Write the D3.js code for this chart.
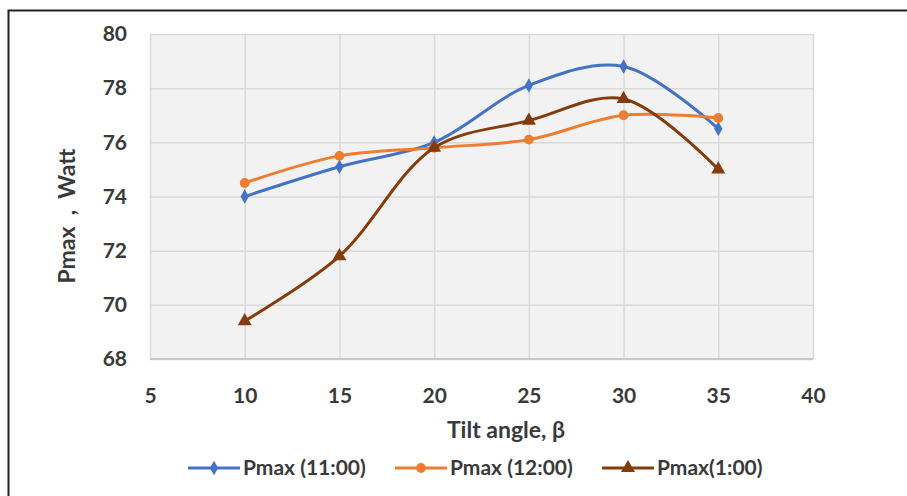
<!DOCTYPE html>
<html><head><meta charset="utf-8">
<script src="https://cdn.jsdelivr.net/npm/d3@7"></script>
<style>body{margin:0;background:#fff;} svg{display:block;}</style>
</head><body>
<svg id="c" width="907" height="496"></svg>
<script>
const tilt = [10, 15, 20, 25, 30, 35];
const p1100 = [74.0, 75.1, 76.0, 78.1, 78.8, 76.5];
const p1200 = [74.5, 75.5, 75.8, 76.1, 77.0, 76.9];
const p0100 = [69.4, 71.8, 75.8, 76.8, 77.6, 75.0];
const seriesNames = ["Pmax (11:00)", "Pmax (12:00)", "Pmax(1:00)"];
const xTicks = [5, 10, 15, 20, 25, 30, 35, 40];
const yTicks = [68, 70, 72, 74, 76, 78, 80];

const colors = ["#4472C4", "#ED7D31", "#843C0C"];
const symbols = [d3.symbolDiamond, d3.symbolCircle, d3.symbolTriangle];
const symSizes = [60, 75, 85];
const font = "Lato, 'Open Sans', sans-serif";
const txt = "#3a3a3a";

const svg = d3.select("#c");
// outer border
svg.append("rect").attr("x", 8.5).attr("y", 10.5).attr("width", 1000).attr("height", 600)
  .attr("fill", "#fff").attr("stroke", "#222").attr("stroke-width", 2);

const x = d3.scaleLinear().domain([5, 40]).range([150, 813]);
const y = d3.scaleLinear().domain([68, 80]).range([359, 34]);

// plot background
svg.append("rect").attr("x", x(5)).attr("y", y(80)).attr("width", x(40) - x(5)).attr("height", y(68) - y(80))
  .attr("fill", "#f2f2f2");

// grid
const gx = svg.append("g").attr("transform", `translate(0,${y(68)})`)
  .call(d3.axisBottom(x).tickValues(xTicks).tickSize(-(y(68) - y(80))).tickFormat(""));
gx.select(".domain").remove();
gx.selectAll("line").attr("stroke", "#d9d9d9").attr("stroke-width", 1.5);
const gy = svg.append("g").attr("transform", `translate(${x(5)},0)`)
  .call(d3.axisLeft(y).tickValues(yTicks).tickSize(-(x(40) - x(5))).tickFormat(""));
gy.select(".domain").remove();
gy.selectAll("line").attr("stroke", "#d9d9d9").attr("stroke-width", 1.5);
// bottom axis line
svg.append("line").attr("x1", x(5)).attr("x2", x(40)).attr("y1", y(68)).attr("y2", y(68))
  .attr("stroke", "#c8c8c8").attr("stroke-width", 2);

// tick labels
const ax = svg.append("g").attr("transform", `translate(0,${y(68)})`)
  .call(d3.axisBottom(x).tickValues(xTicks).tickSize(0).tickPadding(29).tickFormat(d3.format("d")));
ax.select(".domain").remove();
ax.selectAll("text").attr("font-family", font).attr("font-size", 21).attr("font-weight", "bold").attr("fill", txt);
const ay = svg.append("g").attr("transform", `translate(${x(5)},0)`)
  .call(d3.axisLeft(y).tickValues(yTicks).tickSize(0).tickPadding(23).tickFormat(d3.format("d")));
ay.select(".domain").remove();
ay.selectAll("text").attr("font-family", font).attr("font-size", 21).attr("font-weight", "bold").attr("fill", txt);

// axis titles
svg.append("text").attr("x", 506).attr("y", 438).attr("text-anchor", "middle")
  .attr("font-family", font).attr("font-size", 23).attr("font-weight", "bold").attr("fill", txt)
  .text("Tilt angle, β");
svg.append("text").attr("transform", "translate(75,216) rotate(-90)").attr("text-anchor", "middle")
  .attr("font-family", font).attr("font-size", 23).attr("font-weight", "bold").attr("fill", txt)
  .attr("xml:space", "preserve").style("white-space", "pre")
  .text("Pmax  ,  Watt");

// series
const data = [p1100, p1200, p0100];
const line = d3.line().x(d => x(d[0])).y(d => y(d[1])).curve(d3.curveCatmullRom.alpha(0.5));
data.forEach((vals, i) => {
  const pts = tilt.map((t, j) => [t, vals[j]]);
  svg.append("path").datum(pts).attr("d", line).attr("fill", "none")
    .attr("stroke", colors[i]).attr("stroke-width", 3);
  svg.append("g").selectAll("path").data(pts).join("path")
    .attr("transform", d => `translate(${x(d[0])},${y(d[1])})`)
    .attr("d", d3.symbol().type(symbols[i]).size(symSizes[i]))
    .attr("fill", colors[i]);
});

// legend
const legX = [188, 395, 602];
const legY = 468;
seriesNames.forEach((n, i) => {
  const g = svg.append("g").attr("transform", `translate(${legX[i]},${legY})`);
  g.append("line").attr("x1", 0).attr("x2", 52).attr("y1", 0).attr("y2", 0)
    .attr("stroke", colors[i]).attr("stroke-width", 3);
  g.append("path").attr("transform", "translate(26,0)")
    .attr("d", d3.symbol().type(symbols[i]).size(symSizes[i])).attr("fill", colors[i]);
  g.append("text").attr("x", 55).attr("y", 7).attr("font-family", font).attr("font-size", 21)
    .attr("font-weight", "bold").attr("fill", txt).text(n);
});
</script>
</body></html>
